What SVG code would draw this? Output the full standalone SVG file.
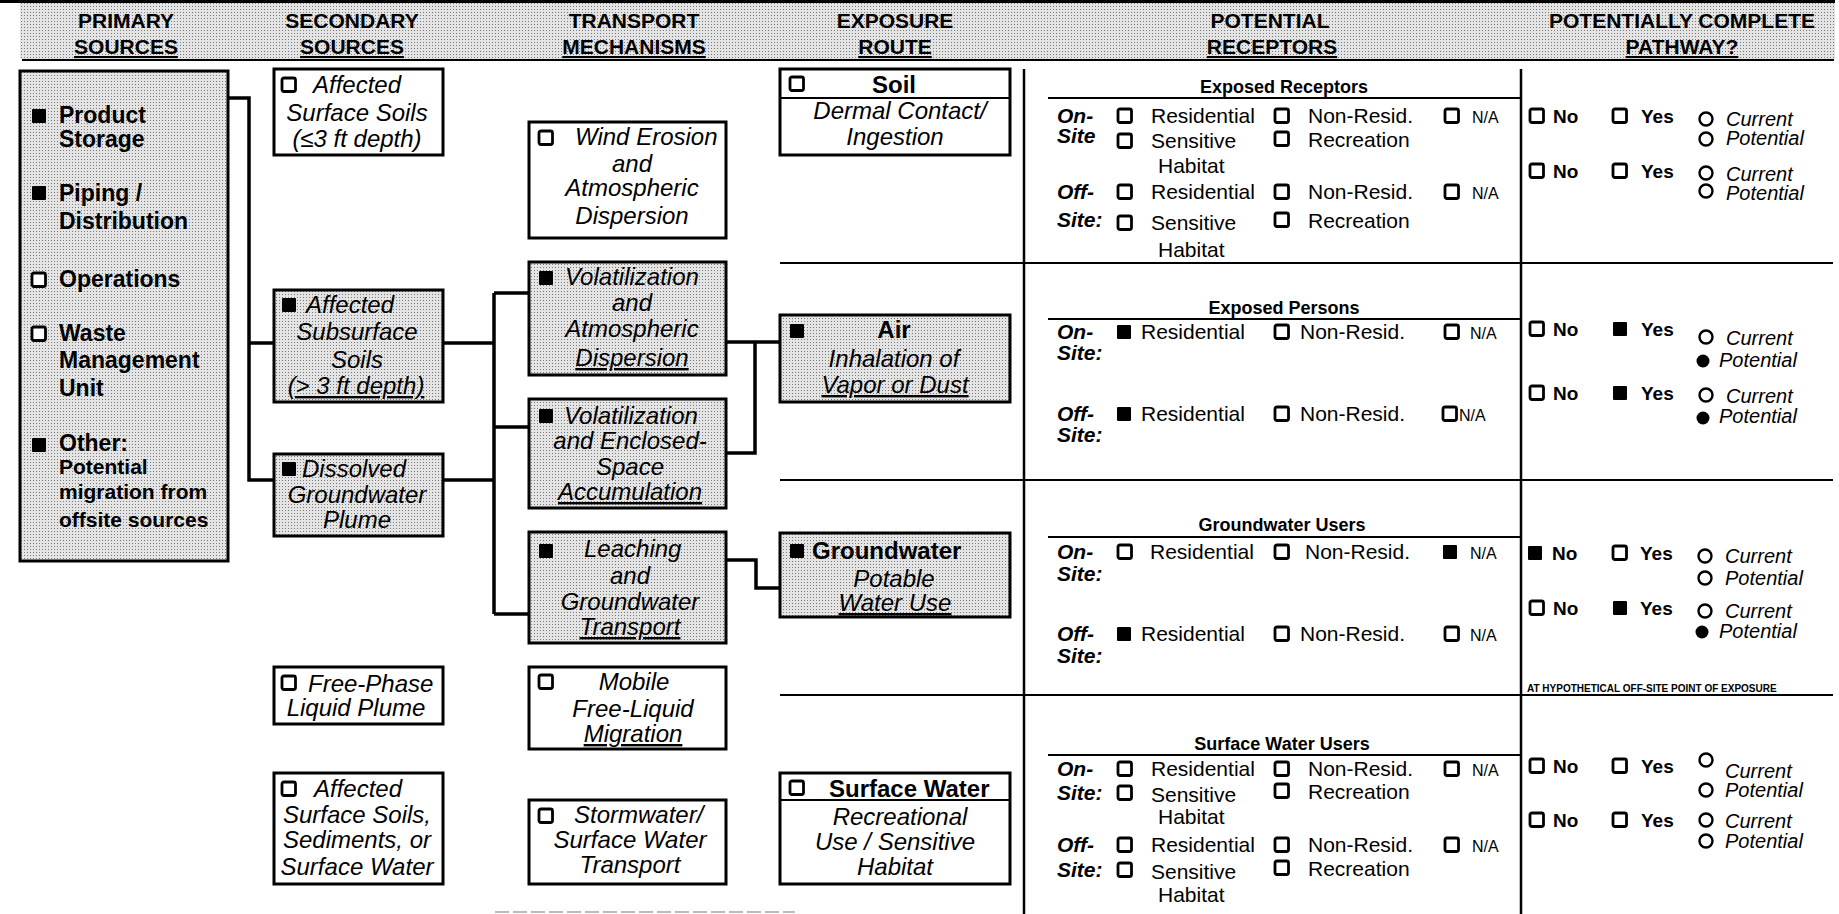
<svg xmlns="http://www.w3.org/2000/svg" width="1839" height="914" viewBox="0 0 1839 914">
<defs>
<pattern id="ht" width="3" height="3" patternUnits="userSpaceOnUse"><rect width="3" height="3" fill="#e4e4e4"/><rect width="1" height="1" fill="#7a7a7a"/></pattern>
<rect id="ob" width="13.5" height="13.5" rx="2" fill="#fff" stroke="#000" stroke-width="2.8"/>
<rect id="fb" width="14" height="14" rx="1" fill="#000"/>
<circle id="oc" r="6.5" fill="#fff" stroke="#000" stroke-width="2.4"/>
<circle id="fc" r="6.5" fill="#000"/>
</defs>
<style>
text{font-family:"Liberation Sans",Arial,sans-serif;fill:#000}
.h{font-weight:bold;font-size:21px;text-anchor:middle}
.u{text-decoration:underline}
.pb{font-weight:bold;font-size:23px}
.ps{font-weight:bold;font-size:21px}
.it{font-style:italic;font-size:24px}
.m{text-anchor:middle}
.bb{font-weight:bold;font-size:24px}
.r{font-size:21px}
.na{font-size:16px}
.st{font-weight:bold;font-style:italic;font-size:21px}
.ttl{font-weight:bold;font-size:18px;text-anchor:middle}
.pw{font-weight:bold;font-size:19px}
.cp{font-style:italic;font-size:20px}
.tiny{font-weight:bold;font-size:10px}
.box{stroke:#000;stroke-width:3;fill:#fff}
.sh{fill:url(#ht)}
.wire{fill:none;stroke:#000;stroke-width:3.5}
.ln{stroke:#000;stroke-width:2.5;fill:none}
.thin{stroke:#000;stroke-width:2;fill:none}
</style>

<g id="frame">
<rect x="20" y="3" width="1815" height="56" class="sh"/>
<line x1="0" y1="1.5" x2="1835" y2="1.5" stroke="#000" stroke-width="3"/>
<line x1="22" y1="60" x2="1834" y2="60" class="thin"/>
<line x1="1024" y1="69" x2="1024" y2="914" class="ln" stroke-width="3"/>
<line x1="1521" y1="69" x2="1521" y2="914" class="ln" stroke-width="3"/>
<line x1="780" y1="263" x2="1833" y2="263" class="thin"/>
<line x1="780" y1="480" x2="1833" y2="480" class="thin"/>
<line x1="780" y1="695" x2="1833" y2="695" class="thin"/>
<line x1="495" y1="912" x2="795" y2="912" stroke="#bbb" stroke-width="2" stroke-dasharray="14 4"/>
</g>

<g id="header">
<text class="h" x="126" y="28">PRIMARY</text>
<text class="h u" x="126" y="54">SOURCES</text>
<text class="h" x="352" y="28">SECONDARY</text>
<text class="h u" x="352" y="54">SOURCES</text>
<text class="h" x="634" y="28">TRANSPORT</text>
<text class="h u" x="634" y="54">MECHANISMS</text>
<text class="h" x="895" y="28">EXPOSURE</text>
<text class="h u" x="895" y="54">ROUTE</text>
<text class="h" x="1270" y="28">POTENTIAL</text>
<text class="h u" x="1272" y="54">RECEPTORS</text>
<text class="h" x="1682" y="28">POTENTIALLY COMPLETE</text>
<text class="h u" x="1682" y="54">PATHWAY?</text>
</g>

<g id="connectors">
<path class="wire" d="M228 98 H249 V480 H274 M249 343 H274"/>
<path class="wire" d="M443 343 H494 M443 480 H494 M494 293 V614 M494 293 H529 M494 427 H529 M494 614 H529"/>
<path class="wire" d="M726 342 H780 M755 342 V453 H726"/>
<path class="wire" d="M726 560 H756 V588 H780"/>
</g>

<g id="primary-sources">
<rect x="20" y="71" width="208" height="490" class="box sh"/>
<use href="#fb" x="32" y="109"/>
<text class="pb" x="59" y="123">Product</text>
<text class="pb" x="59" y="147">Storage</text>
<use href="#fb" x="32" y="186"/>
<text class="pb" x="59" y="201">Piping /</text>
<text class="pb" x="59" y="229">Distribution</text>
<use href="#ob" x="32" y="273"/>
<text class="pb" x="59" y="287">Operations</text>
<use href="#ob" x="32" y="327"/>
<text class="pb" x="59" y="341">Waste</text>
<text class="pb" x="59" y="368">Management</text>
<text class="pb" x="59" y="396">Unit</text>
<use href="#fb" x="32" y="438"/>
<text class="pb" x="59" y="451">Other:</text>
<text class="ps" x="59" y="474">Potential</text>
<text class="ps" x="59" y="499">migration from</text>
<text class="ps" x="59" y="527">offsite sources</text>
</g>

<g id="sec-surface-soils">
<rect x="274" y="69" width="169" height="86" class="box"/>
<use href="#ob" x="282" y="78"/>
<text class="it" x="313" y="93">Affected</text>
<text class="it m" x="357" y="121">Surface Soils</text>
<text class="it m" x="357" y="147">(≤3 ft depth)</text>
</g>
<g id="sec-subsurface-soils">
<rect x="274" y="290" width="169" height="112" class="box sh"/>
<use href="#fb" x="282" y="298"/>
<text class="it" x="306" y="313">Affected</text>
<text class="it m" x="357" y="340">Subsurface</text>
<text class="it m" x="357" y="368">Soils</text>
<text class="it m u" x="356" y="394">(&gt; 3 ft depth)</text>
</g>
<g id="sec-dissolved-plume">
<rect x="274" y="454" width="169" height="82" class="box sh"/>
<use href="#fb" x="282" y="462"/>
<text class="it" x="302" y="477">Dissolved</text>
<text class="it m" x="357" y="503">Groundwater</text>
<text class="it m" x="357" y="528">Plume</text>
</g>
<g id="sec-free-phase">
<rect x="274" y="667" width="169" height="57" class="box"/>
<use href="#ob" x="282" y="676"/>
<text class="it" x="308" y="692">Free-Phase</text>
<text class="it m" x="356" y="716">Liquid Plume</text>
</g>
<g id="sec-surface-water">
<rect x="274" y="773" width="169" height="111" class="box"/>
<use href="#ob" x="282" y="782"/>
<text class="it" x="314" y="797">Affected</text>
<text class="it m" x="357" y="823">Surface Soils,</text>
<text class="it m" x="357" y="848">Sediments, or</text>
<text class="it m" x="357" y="875">Surface Water</text>
</g>

<g id="tr-wind">
<rect x="529" y="122" width="197" height="116" class="box"/>
<use href="#ob" x="539" y="131"/>
<text class="it" x="575" y="145">Wind Erosion</text>
<text class="it m" x="632" y="172">and</text>
<text class="it m" x="632" y="196">Atmospheric</text>
<text class="it m" x="632" y="224">Dispersion</text>
</g>
<g id="tr-vol-atm">
<rect x="529" y="262" width="197" height="113" class="box sh"/>
<use href="#fb" x="539" y="271"/>
<text class="it" x="565" y="285">Volatilization</text>
<text class="it m" x="632" y="311">and</text>
<text class="it m" x="632" y="337">Atmospheric</text>
<text class="it m u" x="632" y="366">Dispersion</text>
</g>
<g id="tr-vol-enclosed">
<rect x="529" y="399" width="197" height="109" class="box sh"/>
<use href="#fb" x="539" y="409"/>
<text class="it" x="564" y="424">Volatilization</text>
<text class="it m" x="630" y="449">and Enclosed-</text>
<text class="it m" x="630" y="475">Space</text>
<text class="it m u" x="630" y="500">Accumulation</text>
</g>
<g id="tr-leaching">
<rect x="529" y="532" width="197" height="111" class="box sh"/>
<use href="#fb" x="539" y="544"/>
<text class="it" x="584" y="557">Leaching</text>
<text class="it m" x="630" y="584">and</text>
<text class="it m" x="630" y="610">Groundwater</text>
<text class="it m u" x="630" y="635">Transport</text>
</g>
<g id="tr-free-liquid">
<rect x="529" y="667" width="197" height="82" class="box"/>
<use href="#ob" x="539" y="675"/>
<text class="it m" x="634" y="690">Mobile</text>
<text class="it m" x="633" y="717">Free-Liquid</text>
<text class="it m u" x="633" y="742">Migration</text>
</g>
<g id="tr-stormwater">
<rect x="529" y="800" width="197" height="84" class="box"/>
<use href="#ob" x="539" y="809"/>
<text class="it" x="574" y="823">Stormwater/</text>
<text class="it m" x="630" y="848">Surface Water</text>
<text class="it m" x="630" y="873">Transport</text>
</g>

<g id="exp-soil">
<rect x="780" y="69" width="230" height="86" class="box"/>
<line x1="780" y1="98" x2="1010" y2="98" class="thin"/>
<use href="#ob" x="790" y="77"/>
<text class="bb m" x="894" y="93">Soil</text>
<text class="it m" x="900" y="119">Dermal Contact/</text>
<text class="it m" x="895" y="145">Ingestion</text>
</g>
<g id="exp-air">
<rect x="780" y="315" width="230" height="87" class="box sh"/>
<use href="#fb" x="790" y="324"/>
<text class="bb m" x="894" y="338">Air</text>
<text class="it m" x="894" y="367">Inhalation of</text>
<text class="it m u" x="895" y="393">Vapor or Dust</text>
</g>
<g id="exp-groundwater">
<rect x="780" y="533" width="230" height="84" class="box sh"/>
<use href="#fb" x="790" y="544"/>
<text class="bb" x="812" y="559">Groundwater</text>
<text class="it m" x="894" y="587">Potable</text>
<text class="it m u" x="895" y="611">Water Use</text>
</g>
<g id="exp-surface-water">
<rect x="780" y="773" width="230" height="111" class="box"/>
<line x1="780" y1="800" x2="1010" y2="800" class="thin"/>
<use href="#ob" x="790" y="781"/>
<text class="bb" x="829" y="797">Surface Water</text>
<text class="it m" x="900" y="825">Recreational</text>
<text class="it m" x="895" y="850">Use / Sensitive</text>
<text class="it m" x="895" y="875">Habitat</text>
</g>

<g id="rec-exposed-receptors">
<text class="ttl" x="1284" y="93">Exposed Receptors</text>
<line x1="1048" y1="98" x2="1521" y2="98" class="thin"/>
<text class="st" x="1057" y="123">On-</text>
<text class="st" x="1057" y="143">Site</text>
<use href="#ob" x="1118" y="109"/><text class="r" x="1151" y="123">Residential</text>
<use href="#ob" x="1275" y="109"/><text class="r" x="1308" y="123">Non-Resid.</text>
<use href="#ob" x="1445" y="109"/><text class="na" x="1472" y="123">N/A</text>
<use href="#ob" x="1118" y="134"/><text class="r" x="1151" y="148">Sensitive</text>
<use href="#ob" x="1275" y="132"/><text class="r" x="1308" y="147">Recreation</text>
<text class="r" x="1158" y="173">Habitat</text>
<text class="st" x="1057" y="199">Off-</text>
<text class="st" x="1057" y="227">Site:</text>
<use href="#ob" x="1118" y="185"/><text class="r" x="1151" y="199">Residential</text>
<use href="#ob" x="1275" y="185"/><text class="r" x="1308" y="199">Non-Resid.</text>
<use href="#ob" x="1445" y="185"/><text class="na" x="1472" y="199">N/A</text>
<use href="#ob" x="1118" y="216"/><text class="r" x="1151" y="230">Sensitive</text>
<use href="#ob" x="1275" y="213"/><text class="r" x="1308" y="228">Recreation</text>
<text class="r" x="1158" y="257">Habitat</text>
</g>

<g id="rec-exposed-persons">
<text class="ttl" x="1284" y="314">Exposed Persons</text>
<line x1="1048" y1="319" x2="1521" y2="319" class="thin"/>
<text class="st" x="1057" y="339">On-</text>
<text class="st" x="1057" y="360">Site:</text>
<use href="#fb" x="1117" y="325"/><text class="r" x="1141" y="339">Residential</text>
<use href="#ob" x="1275" y="325"/><text class="r" x="1300" y="339">Non-Resid.</text>
<use href="#ob" x="1445" y="325"/><text class="na" x="1470" y="339">N/A</text>
<text class="st" x="1057" y="421">Off-</text>
<text class="st" x="1057" y="442">Site:</text>
<use href="#fb" x="1117" y="407"/><text class="r" x="1141" y="421">Residential</text>
<use href="#ob" x="1275" y="407"/><text class="r" x="1300" y="421">Non-Resid.</text>
<use href="#ob" x="1443" y="407"/><text class="na" x="1459" y="421">N/A</text>
</g>

<g id="rec-groundwater-users">
<text class="ttl" x="1282" y="531">Groundwater Users</text>
<line x1="1048" y1="537" x2="1521" y2="537" class="thin"/>
<text class="st" x="1057" y="559">On-</text>
<text class="st" x="1057" y="581">Site:</text>
<use href="#ob" x="1118" y="545"/><text class="r" x="1150" y="559">Residential</text>
<use href="#ob" x="1275" y="545"/><text class="r" x="1305" y="559">Non-Resid.</text>
<use href="#fb" x="1443" y="545"/><text class="na" x="1470" y="559">N/A</text>
<text class="st" x="1057" y="641">Off-</text>
<text class="st" x="1057" y="663">Site:</text>
<use href="#fb" x="1117" y="627"/><text class="r" x="1141" y="641">Residential</text>
<use href="#ob" x="1275" y="627"/><text class="r" x="1300" y="641">Non-Resid.</text>
<use href="#ob" x="1445" y="627"/><text class="na" x="1470" y="641">N/A</text>
</g>

<g id="rec-surface-water-users">
<text class="ttl" x="1282" y="750">Surface Water Users</text>
<line x1="1048" y1="755" x2="1521" y2="755" class="thin"/>
<text class="st" x="1057" y="776">On-</text>
<text class="st" x="1057" y="800">Site:</text>
<use href="#ob" x="1118" y="762"/><text class="r" x="1151" y="776">Residential</text>
<use href="#ob" x="1275" y="762"/><text class="r" x="1308" y="776">Non-Resid.</text>
<use href="#ob" x="1445" y="762"/><text class="na" x="1472" y="776">N/A</text>
<use href="#ob" x="1118" y="786"/><text class="r" x="1151" y="802">Sensitive</text>
<use href="#ob" x="1275" y="784"/><text class="r" x="1308" y="799">Recreation</text>
<text class="r" x="1158" y="824">Habitat</text>
<text class="st" x="1057" y="852">Off-</text>
<text class="st" x="1057" y="877">Site:</text>
<use href="#ob" x="1118" y="838"/><text class="r" x="1151" y="852">Residential</text>
<use href="#ob" x="1275" y="838"/><text class="r" x="1308" y="852">Non-Resid.</text>
<use href="#ob" x="1445" y="838"/><text class="na" x="1472" y="852">N/A</text>
<use href="#ob" x="1118" y="863"/><text class="r" x="1151" y="879">Sensitive</text>
<use href="#ob" x="1275" y="861"/><text class="r" x="1308" y="876">Recreation</text>
<text class="r" x="1158" y="902">Habitat</text>
</g>

<g id="path-exposed-receptors">
<use href="#ob" x="1530" y="109"/><text class="pw" x="1553" y="123">No</text>
<use href="#ob" x="1613" y="109"/><text class="pw" x="1641" y="123">Yes</text>
<use href="#oc" x="1706" y="119"/><text class="cp" x="1726" y="126">Current</text>
<use href="#oc" x="1706" y="139"/><text class="cp" x="1726" y="145">Potential</text>
<use href="#ob" x="1530" y="164"/><text class="pw" x="1553" y="178">No</text>
<use href="#ob" x="1613" y="164"/><text class="pw" x="1641" y="178">Yes</text>
<use href="#oc" x="1706" y="173"/><text class="cp" x="1726" y="181">Current</text>
<use href="#oc" x="1706" y="191"/><text class="cp" x="1726" y="200">Potential</text>
</g>

<g id="path-exposed-persons">
<use href="#ob" x="1530" y="322"/><text class="pw" x="1553" y="336">No</text>
<use href="#fb" x="1613" y="322"/><text class="pw" x="1641" y="336">Yes</text>
<use href="#oc" x="1706" y="337"/><text class="cp" x="1726" y="345">Current</text>
<use href="#fc" x="1703" y="361"/><text class="cp" x="1719" y="367">Potential</text>
<use href="#ob" x="1530" y="386"/><text class="pw" x="1553" y="400">No</text>
<use href="#fb" x="1613" y="386"/><text class="pw" x="1641" y="400">Yes</text>
<use href="#oc" x="1706" y="395"/><text class="cp" x="1726" y="403">Current</text>
<use href="#fc" x="1703" y="418"/><text class="cp" x="1719" y="423">Potential</text>
</g>

<g id="path-groundwater-users">
<use href="#fb" x="1528" y="546"/><text class="pw" x="1552" y="560">No</text>
<use href="#ob" x="1613" y="546"/><text class="pw" x="1640" y="560">Yes</text>
<use href="#oc" x="1705" y="556"/><text class="cp" x="1725" y="563">Current</text>
<use href="#oc" x="1705" y="578"/><text class="cp" x="1725" y="585">Potential</text>
<use href="#ob" x="1530" y="601"/><text class="pw" x="1553" y="615">No</text>
<use href="#fb" x="1613" y="601"/><text class="pw" x="1640" y="615">Yes</text>
<use href="#oc" x="1705" y="611"/><text class="cp" x="1725" y="618">Current</text>
<use href="#fc" x="1702" y="632"/><text class="cp" x="1719" y="638">Potential</text>
<text class="tiny" x="1527" y="692">AT HYPOTHETICAL OFF-SITE POINT OF EXPOSURE</text>
</g>

<g id="path-surface-water-users">
<use href="#ob" x="1530" y="759"/><text class="pw" x="1553" y="773">No</text>
<use href="#ob" x="1613" y="759"/><text class="pw" x="1641" y="773">Yes</text>
<use href="#oc" x="1706" y="760"/><text class="cp" x="1725" y="778">Current</text>
<use href="#oc" x="1706" y="790"/><text class="cp" x="1725" y="797">Potential</text>
<use href="#ob" x="1530" y="813"/><text class="pw" x="1553" y="827">No</text>
<use href="#ob" x="1613" y="813"/><text class="pw" x="1641" y="827">Yes</text>
<use href="#oc" x="1706" y="820"/><text class="cp" x="1725" y="828">Current</text>
<use href="#oc" x="1706" y="841"/><text class="cp" x="1725" y="848">Potential</text>
</g>
</svg>
